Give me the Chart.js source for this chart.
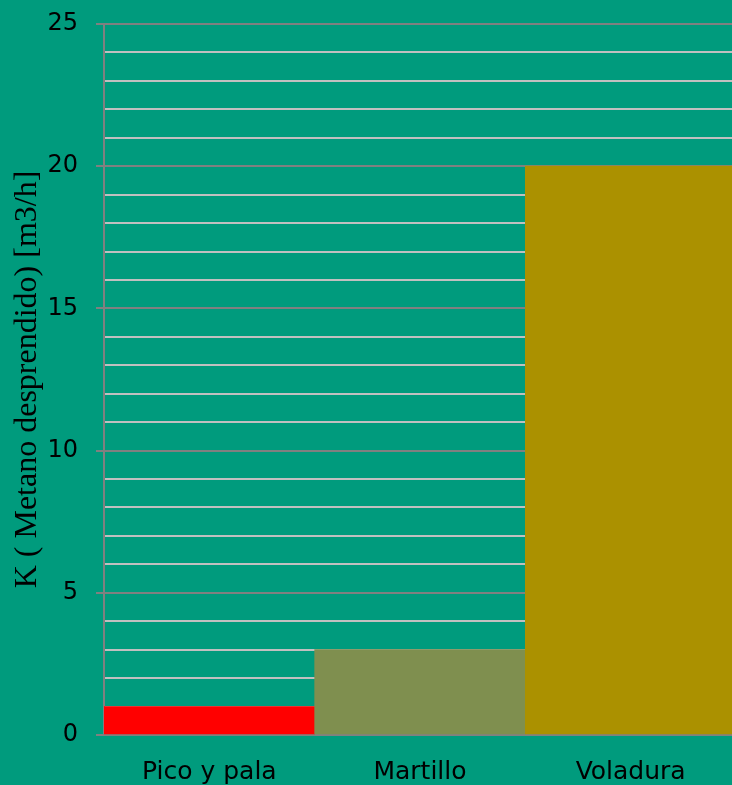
<!DOCTYPE html>
<html>
<head>
<meta charset="utf-8">
<script src="https://cdn.jsdelivr.net/npm/chart.js@4/dist/chart.umd.min.js"></script>
<style>
  html, body { margin: 0; padding: 0; background: #009b7d; overflow: hidden; }
  #wrap { width: 736px; height: 785px; }
</style>
</head>
<body>
<div id="wrap"><canvas id="chart" width="736" height="785"></canvas></div>
<script>
const categories = ["Pico y pala", "Martillo", "Voladura"];
const values = [1, 3, 20];
const barColors = ["#ff0000", "#7f8f4f", "#ab9100"];
const yTitle = "K ( Metano desprendido) [m3/h]";
const yMax = 25;

const isMajor = (v) => v % 5 === 0;

function initChart() {
  const ctx = document.getElementById("chart").getContext("2d");

  new Chart(ctx, {
    type: "bar",
    data: {
      labels: categories,
      datasets: [
        {
          data: values,
          backgroundColor: barColors,
          borderWidth: 0,
          barPercentage: 1,
          categoryPercentage: 1,
        },
      ],
    },
    options: {
      responsive: false,
      animation: false,
      layout: { padding: { top: 24, right: 0, left: 0, bottom: 0 } },
      scales: {
        x: {
          grid: { display: false },
          border: { color: "#808080", width: 2 },
          ticks: {
            color: "#000",
            padding: 14,
            font: { family: "DejaVu Sans", size: 25 },
          },
          afterFit(scale) {
            scale.height = 50;
            scale.paddingLeft = 0;
            scale.paddingRight = 0;
          },
        },
        y: {
          min: 0,
          max: yMax,
          border: { color: "#808080", width: 2 },
          grid: {
            lineWidth: 2,
            color: (c) => (isMajor(c.tick.value) ? "#808080" : "#c0c0c0"),
            tickColor: (c) => (isMajor(c.tick.value) ? "#808080" : "rgba(0,0,0,0)"),
            tickLength: 8,
          },
          ticks: {
            stepSize: 1,
            autoSkip: false,
            color: "#000",
            padding: 18,
            font: { family: "DejaVu Sans", size: 24 },
            callback: (v) => (isMajor(v) ? String(v) : ""),
          },
          title: {
            display: true,
            text: yTitle,
            color: "#000",
            padding: { top: 8, bottom: 0 },
            font: { family: "Liberation Serif", size: 32 },
          },
          afterFit(scale) {
            scale.width = 104;
            scale.paddingTop = 0;
            scale.paddingBottom = 0;
          },
        },
      },
      plugins: {
        legend: { display: false },
        tooltip: { enabled: false },
      },
    },
  });
}

document.addEventListener("DOMContentLoaded", initChart);
</script>
</body>
</html>
